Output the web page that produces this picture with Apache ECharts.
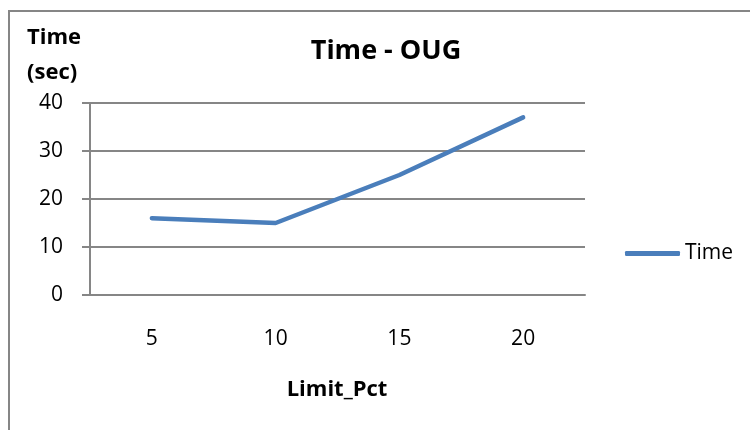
<!DOCTYPE html>
<html>
<head>
<meta charset="utf-8">
<script src="https://cdn.jsdelivr.net/npm/echarts@6/dist/echarts.min.js"></script>
<style>
  html, body { margin: 0; padding: 0; background: #fff; }
  #chart { width: 750px; height: 430px; }
</style>
</head>
<body>
<div id="chart"></div>
<script>
// Run time by limit percentage
const categories = ['5', '10', '15', '20'];
const timeValues = [16, 15, 25, 37];
const seriesName = 'Time';
const chartTitle = 'Time - OUG';
const xAxisTitle = 'Limit_Pct';
const yAxisTitle = 'Time\n(sec)';

const FONT = '"Open Sans", sans-serif';
const GREY = '#868686';
const BLUE = '#4A7EBB';

const chart = echarts.init(document.getElementById('chart'), null, { renderer: 'canvas' });

chart.setOption({
  animation: false,
  backgroundColor: '#ffffff',
  textStyle: { fontFamily: FONT, color: '#000' },
  title: [
    {
      text: chartTitle,
      left: 386,
      top: 38,
      textAlign: 'center',
      padding: 0,
      textStyle: { fontFamily: FONT, fontSize: 27, fontWeight: 'bold', color: '#000' }
    },
    {
      text: yAxisTitle,
      left: 27,
      top: 20,
      padding: 0,
      textStyle: { fontFamily: FONT, fontSize: 22, fontWeight: 'bold', color: '#000', lineHeight: 35 }
    },
    {
      text: xAxisTitle,
      left: 337,
      top: 379,
      textAlign: 'center',
      padding: 0,
      textStyle: { fontFamily: FONT, fontSize: 22, fontWeight: 'bold', color: '#000' }
    }
  ],
  graphic: [
    {
      type: 'rect',
      silent: true,
      shape: { x: 9, y: 11, width: 800, height: 500 },
      style: { fill: 'none', stroke: GREY, lineWidth: 2 }
    }
  ],
  legend: {
    data: [{ name: seriesName, icon: 'roundRect' }],
    orient: 'vertical',
    left: 625,
    top: 243,
    padding: 0,
    itemWidth: 55,
    itemHeight: 5,
    textStyle: { fontFamily: FONT, fontSize: 21, color: '#000' }
  },
  grid: { left: 90, right: 165, top: 103, bottom: 135, containLabel: false },
  xAxis: {
    type: 'category',
    data: categories,
    boundaryGap: true,
    axisLine: { show: true, lineStyle: { color: GREY, width: 2 } },
    axisTick: { show: false },
    axisLabel: { margin: 34, fontFamily: FONT, fontSize: 21, color: '#000' },
    splitLine: { show: false }
  },
  yAxis: {
    type: 'value',
    min: 0,
    max: 40,
    interval: 10,
    axisLine: { show: true, lineStyle: { color: GREY, width: 2 } },
    axisTick: { show: true, inside: false, length: 8, lineStyle: { color: GREY, width: 2 } },
    axisLabel: { margin: 27, fontFamily: FONT, fontSize: 21, color: '#000' },
    splitLine: { show: true, lineStyle: { color: GREY, width: 2 } }
  },
  series: [
    {
      name: seriesName,
      type: 'line',
      data: timeValues,
      symbol: 'none',
      showSymbol: false,
      smooth: false,
      color: BLUE,
      lineStyle: { color: BLUE, width: 4.5, cap: 'round', join: 'round' }
    }
  ]
});
</script>
</body>
</html>
